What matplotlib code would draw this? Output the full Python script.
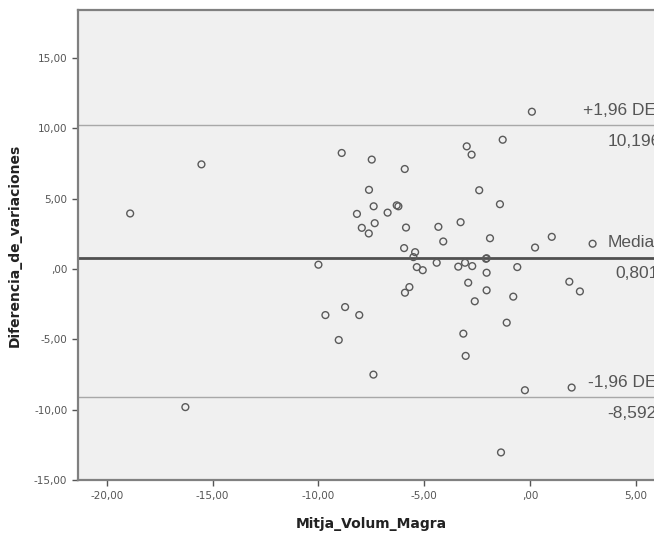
import numpy as np
import matplotlib.pyplot as plt

# Bland-Altman: mean of the two measures vs their difference
mitja = [-18.90, -15.53, -16.29, -10.00, -9.67, -8.90, -7.48, -5.92, -7.61, -7.39,
         -8.18, -6.73, -6.30, -6.22, -7.34, -7.95, -7.62, -5.86, -4.33, -4.10,
         -5.95, -5.43, -5.51, -5.35, -5.07, -4.41, -2.99, -2.76, -1.29, -2.40,
         -1.42, -3.28, -1.89, 0.24, 1.03, 2.96, -3.39, -3.07, -2.73, -2.08,
         -2.05, -2.05, -0.60, -2.92, -2.05, -2.61, -0.79, 1.86, 2.36, -1.10,
         -3.15, -3.04, -0.24, 1.97, -1.37, -5.70, -5.91, -8.74, -8.07, -9.04,
         -7.40, 0.09]
diferencia = [3.94, 7.43, -9.82, 0.30, -3.28, 8.24, 7.77, 7.10, 5.62, 4.45,
              3.91, 4.00, 4.52, 4.45, 3.25, 2.92, 2.52, 2.94, 2.99, 1.95,
              1.48, 1.19, 0.84, 0.13, -0.09, 0.44, 8.71, 8.12, 9.18, 5.59,
              4.60, 3.32, 2.18, 1.52, 2.28, 1.79, 0.16, 0.44, 0.20, 0.72,
              0.76, -0.27, 0.13, -0.98, -1.52, -2.30, -1.97, -0.91, -1.60, -3.82,
              -4.60, -6.18, -8.62, -8.43, -13.04, -1.29, -1.69, -2.71, -3.28, -5.05,
              -7.51, 11.17]

# reference lines (position as drawn) and their labels
ref_y = [10.196, 0.801, -9.10]
ref_name = ["+1,96 DE", "Media", "-1,96 DE"]
ref_value = ["10,196", "0,801", "-8,592"]

xticks = [-20, -15, -10, -5, 0, 5]
xticklabels = ["-20,00", "-15,00", "-10,00", "-5,00", ",00", "5,00"]
yticks = [-15, -10, -5, 0, 5, 10, 15]
yticklabels = ["-15,00", "-10,00", "-5,00", ",00", "5,00", "10,00", "15,00"]

fig = plt.figure(figsize=(6.54, 5.34), dpi=100)
# right edge of the plot falls outside the picture, as in the original
ax = fig.add_axes([0.1188, 0.1011, 0.9057, 0.8802])
ax.set_facecolor("#f0f0f0")

for y, lw, col in zip(ref_y, [1.0, 2.0, 1.0], ["#a8a8a8", "#505050", "#a8a8a8"]):
    ax.axhline(y, color=col, linewidth=lw, zorder=1)

ax.scatter(mitja, diferencia, s=24, facecolors="none", edgecolors="#5a5a5a",
           linewidths=1.0, zorder=3)

# labels run off the right edge, like in the SPSS export
name_x = [2.52, 3.65, 2.76]
value_x = [3.65, 4.02, 3.65]
for y, name, val, nx, vx in zip(ref_y, ref_name, ref_value, name_x, value_x):
    ax.text(nx, y + 1.05, name, fontsize=12.5, color="#555555", va="center",
            ha="left", family="Liberation Sans", clip_on=False)
    ax.text(vx, y - 1.15, val, fontsize=12.5, color="#555555", va="center",
            ha="left", family="Liberation Sans", clip_on=False)

ax.set_xlim(-21.38, 6.62)
ax.set_ylim(-15, 18.4)
ax.set_xticks(xticks)
ax.set_xticklabels(xticklabels)
ax.set_yticks(yticks)
ax.set_yticklabels(yticklabels)
ax.tick_params(labelsize=7.5, colors="#555555", length=4, width=1, direction="out")
ax.tick_params(axis="x", pad=4)

for side in ["left", "top", "bottom", "right"]:
    ax.spines[side].set_color("#808080")
    ax.spines[side].set_linewidth(1.6)

ax.set_xlabel("Mitja_Volum_Magra", fontsize=10, fontweight="bold", color="#222222")
ax.set_ylabel("Diferencia_de_variaciones", fontsize=10, fontweight="bold",
              color="#222222")
ax.xaxis.set_label_coords(0.4955 * 592.3 / (0.9057 * 654), -0.078)
ax.yaxis.set_label_coords(-0.095, 0.5)

fig.savefig("out.png", dpi=100, facecolor="white")
